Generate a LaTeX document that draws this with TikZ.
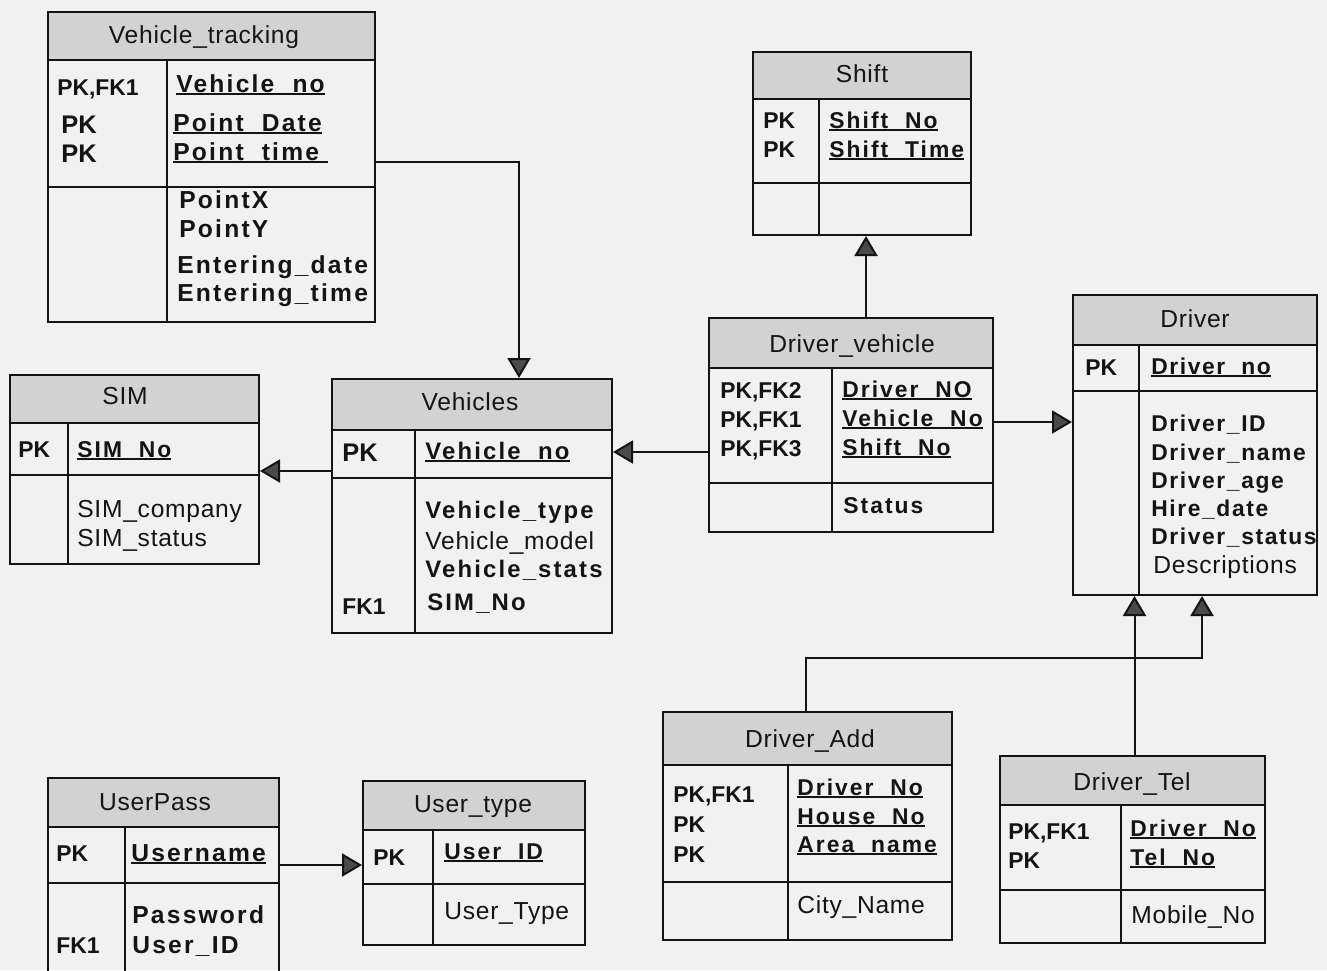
\documentclass[tikz,border=0pt]{standalone}
\usepackage{fontspec}
\setmainfont{Liberation Sans}
\newfontfamily\hdfont[LetterSpace=3]{Liberation Sans}
\newfontfamily\atfont[LetterSpace=9]{Liberation Sans}
\newfontfamily\atfontn[LetterSpace=7]{Liberation Sans}
\usetikzlibrary{arrows.meta,calc,fit}

\definecolor{bgcol}{HTML}{F1F1F1}
\definecolor{hdrcol}{HTML}{D2D2D2}
\definecolor{tipcol}{HTML}{4A4A4A}
\definecolor{ink}{HTML}{141414}

% underlined key attribute, optional extra length of the rule
\newlength\ulw
\newcommand\pkul[2][0pt]{\settowidth\ulw{#2}\addtolength\ulw{#1}\rlap{#2}\rule[-0.12em]{\ulw}{0.075em}}

% entity box: name, x1, y1, x2, y2, header bottom, key column x, split y
\newcommand\ertab[8]{%
  \fill[hdrcol] (#2,#3) rectangle (#4,#6);
  \draw[tabline] (#2,#6) -- (#4,#6) (#7,#6) -- (#7,#5) (#2,#8) -- (#4,#8);
  \node[fit={(#2,#3) (#4,#5)}, draw, tabline, inner sep=0pt] (#1) {};
}

\tikzset{
  tabline/.style={draw=ink, line width=0.04cm},
  hdr/.style={font=\hdfont\fontsize{14}{16}\selectfont, text=ink, anchor=base, inner sep=0pt},
  keyt/.style={font=\bfseries\fontsize{13}{15}\selectfont, text=ink, anchor=base west, inner sep=0pt},
  keybig/.style={keyt, font=\bfseries\fontsize{14.5}{16}\selectfont},
  att/.style={font=\atfont\bfseries\fontsize{13}{15}\selectfont, text=ink, anchor=base west, inner sep=0pt},
  attbig/.style={att, font=\atfont\bfseries\fontsize{14}{16}\selectfont},
  attmid/.style={att, font=\atfont\bfseries\fontsize{13.6}{16}\selectfont},
  attnar/.style={att, font=\atfontn\bfseries\fontsize{13}{15}\selectfont},
  reg/.style={font=\hdfont\fontsize{14}{16}\selectfont, text=ink, anchor=base west, inner sep=0pt},
  fk/.style={draw=ink, line width=0.04cm,
    -{Triangle[length=0.4cm, width=0.46cm, fill=tipcol]}},
}

\begin{document}
\begin{tikzpicture}[x=0.02cm, y=-0.02cm]
\useasboundingbox (0,0) rectangle (1327,970);
\fill[bgcol] (0,0) rectangle (1327,970);
\clip (0,0) rectangle (1327,970);

% ---------- Vehicle_tracking
\ertab{vt}{48}{12}{375}{322}{60}{167}{187}
\node[hdr] (vt-h) at (204,43) {Vehicle\_tracking};
\node[keyt] (vt-k1) at (57,95) {PK,FK1};
\node[keybig] (vt-k2) at (61,133) {PK};
\node[keybig] (vt-k3) at (61,162) {PK};
\node[attbig] (vt-a1) at (176,92) {\pkul{Vehicle\_no}};
\node[attbig] (vt-a2) at (173,131) {\pkul{Point\_Date}};
\node[attbig] (vt-a3) at (173,160) {\pkul[5pt]{Point\_time}};
\node[attbig] (vt-a4) at (179,208) {PointX};
\node[attbig] (vt-a5) at (179,237) {PointY};
\node[attbig] (vt-a6) at (177,273) {Entering\_date};
\node[attbig] (vt-a7) at (177,301) {Entering\_time};

% ---------- Shift
\ertab{sh}{753}{52}{971}{235}{99}{819}{183}
\node[hdr] (sh-h) at (862,82) {Shift};
\node[keyt] (sh-k1) at (763,128) {PK};
\node[keyt] (sh-k2) at (763,157) {PK};
\node[att] (sh-a1) at (829,128) {\pkul{Shift\_No}};
\node[att] (sh-a2) at (829,157) {\pkul{Shift\_Time}};

% ---------- Driver_vehicle
\ertab{dv}{709}{318}{993}{532}{368}{832}{483}
\node[hdr] (dv-h) at (852,352) {Driver\_vehicle};
\node[keyt] (dv-k1) at (720,398) {PK,FK2};
\node[keyt] (dv-k2) at (720,427) {PK,FK1};
\node[keyt] (dv-k3) at (720,456) {PK,FK3};
\node[att] (dv-a1) at (842,397) {\pkul{Driver\_NO}};
\node[att] (dv-a2) at (842,426) {\pkul{Vehicle\_No}};
\node[att] (dv-a3) at (842,455) {\pkul{Shift\_No}};
\node[att] (dv-a4) at (843,513) {Status};

% ---------- Driver
\ertab{drv}{1073}{295}{1317}{595}{345}{1139}{391}
\node[hdr] (drv-h) at (1195,327) {Driver};
\node[keyt] (drv-k1) at (1085,375) {PK};
\node[attnar] (drv-a1) at (1151,374) {\pkul{Driver\_no}};
\node[attnar] (drv-a2) at (1151,431) {Driver\_ID};
\node[attnar] (drv-a3) at (1151,460) {Driver\_name};
\node[attnar] (drv-a4) at (1151,488) {Driver\_age};
\node[attnar] (drv-a5) at (1151,516) {Hire\_date};
\node[attnar] (drv-a6) at (1151,544) {Driver\_status};
\node[reg] (drv-a7) at (1153,573) {Descriptions};

% ---------- Vehicles
\ertab{veh}{332}{379}{612}{633}{430}{415}{478}
\node[hdr] (veh-h) at (470,410) {Vehicles};
\node[keybig] (veh-k1) at (342,461) {PK};
\node[keyt] (veh-k2) at (342,614) {FK1};
\node[attmid] (veh-a1) at (425,459) {\pkul{Vehicle\_no}};
\node[attmid] (veh-a2) at (425,518) {Vehicle\_type};
\node[reg] (veh-a3) at (425,549) {Vehicle\_model};
\node[attmid] (veh-a4) at (425,577) {Vehicle\_stats};
\node[attmid] (veh-a5) at (427,610) {SIM\_No};

% ---------- SIM
\ertab{sim}{10}{375}{259}{564}{423}{68}{475}
\node[hdr] (sim-h) at (125,404) {SIM};
\node[keyt] (sim-k1) at (18,457) {PK};
\node[att] (sim-a1) at (77,457) {\pkul{SIM\_No}};
\node[reg] (sim-a2) at (77,517) {SIM\_company};
\node[reg] (sim-a3) at (77,546) {SIM\_status};

% ---------- UserPass
\ertab{up}{48}{778}{279}{990}{827}{125}{883}
\node[hdr] (up-h) at (155,810) {UserPass};
\node[keyt] (up-k1) at (56,861) {PK};
\node[keyt] (up-k2) at (56,953) {FK1};
\node[attbig] (up-a1) at (131,861) {\pkul{Username}};
\node[attbig] (up-a2) at (132,923) {Password};
\node[attbig] (up-a3) at (132,953) {User\_ID};

% ---------- User_type
\ertab{ut}{363}{781}{585}{945}{830}{433}{884}
\node[hdr] (ut-h) at (473,812) {User\_type};
\node[keyt] (ut-k1) at (373,865) {PK};
\node[att] (ut-a1) at (444,859) {\pkul{User\_ID}};
\node[reg] (ut-a2) at (444,919) {User\_Type};

% ---------- Driver_Add
\ertab{da}{663}{712}{952}{940}{765}{788}{882}
\node[hdr] (da-h) at (810,747) {Driver\_Add};
\node[keyt] (da-k1) at (673,802) {PK,FK1};
\node[keyt] (da-k2) at (673,832) {PK};
\node[keyt] (da-k3) at (673,862) {PK};
\node[att] (da-a1) at (797,795) {\pkul{Driver\_No}};
\node[att] (da-a2) at (797,824) {\pkul{House\_No}};
\node[att] (da-a3) at (797,852) {\pkul{Area\_name}};
\node[reg] (da-a4) at (797,913) {City\_Name};

% ---------- Driver_Tel
\ertab{dt}{1000}{756}{1265}{943}{805}{1121}{890}
\node[hdr] (dt-h) at (1132,790) {Driver\_Tel};
\node[keyt] (dt-k1) at (1008,839) {PK,FK1};
\node[keyt] (dt-k2) at (1008,868) {PK};
\node[att] (dt-a1) at (1130,836) {\pkul{Driver\_No}};
\node[att] (dt-a2) at (1130,865) {\pkul{Tel\_No}};
\node[reg] (dt-a3) at (1131,923) {Mobile\_No};

% ---------- relationships
\draw[fk] ($(vt.north east)+(0,151)$) -| ($(veh.north west)+(188,0)$);
\path ($(sh.south)+(4,0)$) coordinate (sha);
\draw[fk] (sha |- dv.north) -- (sha);
\path ($(dv.north west)+(0,135)$) coordinate (dvl);
\draw[fk] (dvl) -- (dvl -| veh.east);
\path ($(dv.north east)+(0,105)$) coordinate (dvr);
\draw[fk] (dvr) -- (dvr -| drv.west);
\path ($(veh.north west)+(0,93)$) coordinate (vhl);
\draw[fk] (vhl) -- (vhl -| sim.east);
\path ($(up.north east)+(0,88)$) coordinate (upr);
\draw[fk] (upr) -- (upr -| ut.west);
\path ($(drv.south west)+(130,62)$) coordinate (dj);
\draw[fk] ($(da.north west)+(144,0)$) |- (dj) -- (dj |- drv.south);
\path ($(dt.north)+(2,0)$) coordinate (dtt);
\draw[fk] (dtt) -- (dtt |- drv.south);
\end{tikzpicture}
\end{document}
